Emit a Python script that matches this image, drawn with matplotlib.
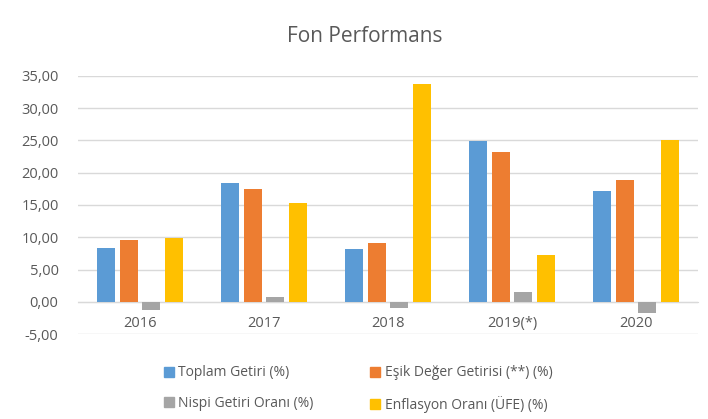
import matplotlib
matplotlib.use("Agg")
import matplotlib.pyplot as plt
from matplotlib.lines import Line2D
import numpy as np

categories = ["2016", "2017", "2018", "2019(*)", "2020"]
toplam = [8.41, 18.38, 8.16, 24.88, 17.20]
esik = [9.56, 17.45, 9.10, 23.27, 18.85]
nispi = [-1.34, 0.78, -0.93, 1.51, -1.81]
enflasyon = [9.81, 15.37, 33.70, 7.27, 25.03]
series_names = ["Toplam Getiri (%)", "Eşik Değer Getirisi (**) (%)",
                "Nispi Getiri Oranı (%)", "Enflasyon Oranı (ÜFE) (%)"]
colors = ["#5B9BD5", "#ED7D31", "#A5A5A5", "#FFC000"]
yticks = [-5, 0, 5, 10, 15, 20, 25, 30, 35]

plt.rcParams['font.family'] = ['Open Sans', 'DejaVu Sans']
txt = "#595959"

fig = plt.figure(figsize=(7.08, 4.19), dpi=100)
ax = fig.add_axes([78/708, 1-334/419, 620/708, 258/419])

x = np.arange(len(categories))
step = 0.183
width = 0.147
data = [toplam, esik, nispi, enflasyon]
for i, (vals, c) in enumerate(zip(data, colors)):
    ax.bar(x + (i - 1.5) * step, vals, width=width, color=c, zorder=3)

ax.set_xlim(-0.5, len(categories) - 0.5)
ax.set_ylim(-5, 35)
ax.set_yticks(yticks)
ax.set_yticklabels([f"{v:.2f}".replace(".", ",") for v in yticks], color=txt, fontsize=10.5)
ax.grid(axis='y', color="#D9D9D9", linewidth=1, zorder=0)
for s in ['top', 'right', 'left']:
    ax.spines[s].set_visible(False)
ax.spines['bottom'].set_position(('data', 0))
ax.spines['bottom'].set_color("#D9D9D9")
ax.spines['bottom'].set_zorder(2)
ax.set_xticks(x)
ax.set_xticklabels(categories, color=txt, fontsize=10.5)
ax.tick_params(axis='both', length=0)
ax.tick_params(axis='y', pad=14)
ax.tick_params(axis='x', pad=10)

fig.text(365/708, 1-37/419, "Fon Performans", ha='center', va='center', fontsize=15, color=txt)

handles = [Line2D([], [], marker='s', linestyle='none', markersize=7, color=c) for c in colors]
order = [0, 2, 1, 3]
leg = fig.legend([handles[i] for i in order], [series_names[i] for i in order],
                 ncol=2, loc='center left', bbox_to_anchor=(152/708, 1-389/419),
                 frameon=False, fontsize=10, labelcolor=txt, handlelength=0.6,
                 handletextpad=0.4, columnspacing=4.1, labelspacing=1.1)

fig.savefig("out.png", dpi=100)
